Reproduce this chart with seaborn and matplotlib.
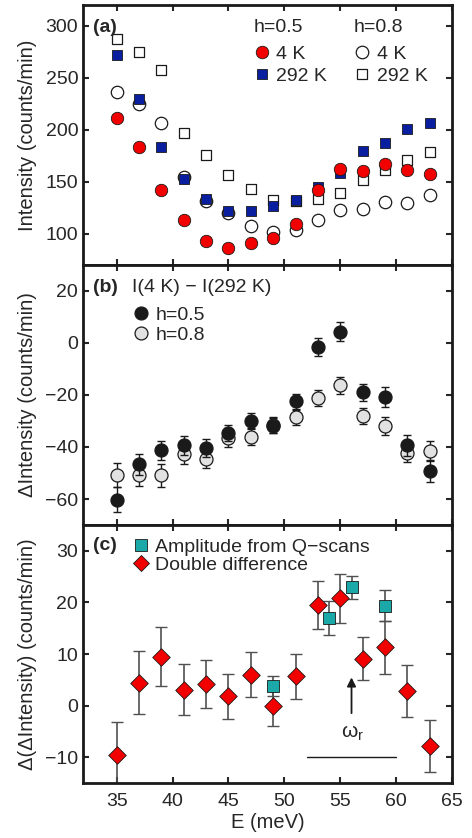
import numpy as np
import pandas as pd
import seaborn as sns
import matplotlib
matplotlib.use("Agg")
import matplotlib.pyplot as plt
from matplotlib.lines import Line2D

# energies (meV)
energy = [35, 37, 39, 41, 43, 45, 47, 49, 51, 53, 55, 57, 59, 61, 63]

# panel (a): raw intensities
h05_4K = [211.6, 183.3, 141.8, 113.5, 93.2, 86.8, 91.0, 95.5, 109.3, 142.4, 162.7, 160.1, 167.2, 161.1, 157.6]
h05_292K = [271.7, 229.3, 183.3, 152.7, 133.4, 121.5, 121.5, 127.0, 132.2, 144.7, 158.5, 179.4, 187.5, 200.3, 206.8]
h08_4K = [236.3, 224.4, 206.8, 154.3, 131.2, 120.0, 107.1, 101.6, 103.9, 112.9, 123.2, 124.1, 130.5, 129.6, 137.0]
h08_292K = [287.1, 275.2, 257.6, 196.5, 176.2, 156.3, 143.1, 132.8, 131.8, 133.8, 139.2, 152.1, 161.7, 171.4, 178.5]

# panel (b): I(4 K) - I(292 K)
diff_h05 = [-60.2, -46.6, -41.3, -39.4, -40.5, -34.7, -30.0, -31.8, -22.5, -1.5, 4.4, -19.0, -20.7, -39.4, -49.3]
diff_h05_err = [4.7, 4.0, 3.7, 3.5, 3.5, 3.0, 3.0, 3.0, 3.0, 3.5, 3.7, 3.2, 3.9, 4.0, 4.3]
diff_h08 = [-50.8, -50.8, -50.8, -42.6, -44.6, -36.7, -36.0, -31.5, -28.6, -21.2, -16.3, -28.0, -31.9, -42.2, -41.4]
diff_h08_err = [4.6, 4.2, 4.4, 3.8, 3.6, 3.4, 3.2, 3.0, 3.0, 3.2, 3.3, 3.0, 3.6, 3.6, 3.8]

# panel (c): double difference and Q-scan amplitude
dd = [-9.5, 4.4, 9.5, 3.1, 4.2, 1.8, 6.0, 0.0, 5.7, 19.5, 20.8, 9.1, 11.3, 2.8, -7.8]
dd_err = [6.4, 6.1, 5.7, 5.0, 4.6, 4.4, 4.3, 4.0, 4.4, 4.6, 4.8, 4.2, 5.1, 5.1, 5.1]
qscan_energy = [49, 54, 56, 59]
qscan_amp = [3.8, 16.9, 22.9, 19.4]
qscan_err = [1.9, 3.3, 2.2, 3.0]

# resonance marker
omega_r = 56
omega_r_band = [52, 60]

RED = "#f20000"
BLUE = "#0a1fa0"
TEAL = "#1ba8a8"
LIGHT = "#e2e2e2"
FS = 14

sns.set_theme(style="ticks")
plt.rcParams["font.family"] = ["Liberation Sans", "DejaVu Sans"]
plt.rcParams["font.size"] = FS
plt.rcParams["axes.linewidth"] = 2.0
plt.rcParams["xtick.direction"] = "in"
plt.rcParams["ytick.direction"] = "in"
plt.rcParams["xtick.major.size"] = 4
plt.rcParams["ytick.major.size"] = 4
plt.rcParams["xtick.major.width"] = 1.5
plt.rcParams["ytick.major.width"] = 1.5
plt.rcParams["xtick.major.pad"] = 7.5
plt.rcParams["xtick.labelsize"] = FS
plt.rcParams["ytick.labelsize"] = FS
plt.rcParams["axes.labelsize"] = 14.5
plt.rcParams["mathtext.fontset"] = "custom"
plt.rcParams["mathtext.rm"] = "Liberation Sans"
plt.rcParams["mathtext.it"] = "Liberation Sans"

fig = plt.figure(figsize=(4.72, 8.38), dpi=100)
left, width = 0.176, 0.782
ax_a = fig.add_axes([left, 0.6838, width, 0.3103])
ax_b = fig.add_axes([left, 0.3735, width, 0.3103], sharex=ax_a)
ax_c = fig.add_axes([left, 0.0656, width, 0.3079], sharex=ax_a)

df_a = pd.DataFrame({"E": energy, "h05_4K": h05_4K, "h05_292K": h05_292K,
                     "h08_4K": h08_4K, "h08_292K": h08_292K})

leg_kw = dict(frameon=False, loc="upper left", borderpad=0, borderaxespad=0,
              handlelength=0.9, handletextpad=0.3, fontsize=FS)

# ---- panel (a)
ms_c, ms_s = 80, 52
sns.scatterplot(data=df_a, x="E", y="h08_292K", marker="s", s=ms_s, color="white",
                edgecolor="k", linewidth=0.9, ax=ax_a, zorder=2)
sns.scatterplot(data=df_a, x="E", y="h08_4K", marker="o", s=ms_c, color="white",
                edgecolor="k", linewidth=0.9, ax=ax_a, zorder=3)
sns.scatterplot(data=df_a, x="E", y="h05_292K", marker="s", s=ms_s, color=BLUE,
                edgecolor="k", linewidth=0.6, ax=ax_a, zorder=4)
sns.scatterplot(data=df_a, x="E", y="h05_4K", marker="o", s=ms_c, color=RED,
                edgecolor="k", linewidth=0.6, ax=ax_a, zorder=5)
ax_a.set_ylim(70, 320)
ax_a.set_yticks([100, 150, 200, 250, 300])
ax_a.set_ylabel("Intensity (counts/min)")

handles = [
    Line2D([], [], ls="", marker="o", ms=9, mfc=RED, mec="k", mew=0.6),
    Line2D([], [], ls="", marker="s", ms=7.2, mfc=BLUE, mec="k", mew=0.6),
    Line2D([], [], ls="", marker="o", ms=9, mfc="white", mec="k", mew=0.9),
    Line2D([], [], ls="", marker="s", ms=7.2, mfc="white", mec="k", mew=0.9),
]
ax_a.legend(handles, ["4 K", "292 K", "4 K", "292 K"], ncol=2,
            bbox_to_anchor=(0.4606, 0.846), columnspacing=1.34,
            labelspacing=0.25, **leg_kw)
ax_a.text(0.461, 0.915, "h=0.5", transform=ax_a.transAxes, va="center", ha="left", fontsize=FS)
ax_a.text(0.732, 0.915, "h=0.8", transform=ax_a.transAxes, va="center", ha="left", fontsize=FS)
ax_a.text(0.027, 0.915, "(a)", transform=ax_a.transAxes, va="center", ha="left",
          fontsize=FS, fontweight="bold")

# ---- panel (b)
ax_b.errorbar(energy, diff_h08, yerr=diff_h08_err, fmt="none", ecolor="k",
              elinewidth=1.0, capsize=3, capthick=1.0, zorder=2)
sns.scatterplot(x=energy, y=diff_h08, marker="o", s=88, color=LIGHT,
                edgecolor="k", linewidth=0.9, ax=ax_b, zorder=3)
ax_b.errorbar(energy, diff_h05, yerr=diff_h05_err, fmt="none", ecolor="k",
              elinewidth=1.0, capsize=3, capthick=1.0, zorder=4)
sns.scatterplot(x=energy, y=diff_h05, marker="o", s=88, color="k",
                edgecolor="k", linewidth=0.9, ax=ax_b, zorder=5)
ax_b.set_ylim(-70, 30)
ax_b.set_yticks([-60, -40, -20, 0, 20])
ax_b.set_ylabel("ΔIntensity (counts/min)")
handles_b = [
    Line2D([], [], ls="", marker="o", ms=9.3, mfc="k", mec="k", mew=0.9),
    Line2D([], [], ls="", marker="o", ms=9.3, mfc=LIGHT, mec="k", mew=0.9),
]
ax_b.legend(handles_b, ["h=0.5", "h=0.8"], bbox_to_anchor=(0.132, 0.840),
            labelspacing=0.1, **leg_kw)
ax_b.text(0.027, 0.912, "(b)", transform=ax_b.transAxes, va="center", ha="left",
          fontsize=FS, fontweight="bold")
ax_b.text(0.133, 0.912, "I(4 K) − I(292 K)", transform=ax_b.transAxes, va="center",
          ha="left", fontsize=FS)

# ---- panel (c)
ax_c.errorbar(energy, dd, yerr=dd_err, fmt="none", ecolor="#505050",
              elinewidth=1.2, capsize=4, capthick=1.0, zorder=2)
ax_c.errorbar(qscan_energy, qscan_amp, yerr=qscan_err, fmt="none", ecolor="#505050",
              elinewidth=1.2, capsize=4, capthick=1.0, zorder=2)
sns.scatterplot(x=energy, y=dd, marker="D", s=80, color=RED,
                edgecolor="k", linewidth=0.6, ax=ax_c, zorder=4)
sns.scatterplot(x=qscan_energy, y=qscan_amp, marker="s", s=75, color=TEAL,
                edgecolor="k", linewidth=0.6, ax=ax_c, zorder=3)
ax_c.annotate("", xy=(omega_r, 6), xytext=(omega_r, -2),
              arrowprops=dict(arrowstyle="-|>", color="k", lw=1.3, mutation_scale=13))
ax_c.text(omega_r + 0.1, -5.4, r"$\omega_r$", ha="center", va="center", fontsize=15)
ax_c.plot(omega_r_band, [-10, -10], color="k", lw=1.0)
ax_c.set_ylim(-15, 35)
ax_c.set_yticks([-10, 0, 10, 20, 30])
ax_c.set_ylabel("Δ(ΔIntensity) (counts/min)")
handles_c = [
    Line2D([], [], ls="", marker="s", ms=8, mfc=TEAL, mec="k", mew=0.6),
    Line2D([], [], ls="", marker="D", ms=8, mfc=RED, mec="k", mew=0.6),
]
ax_c.legend(handles_c, ["Amplitude from Q−scans", "Double difference"],
            bbox_to_anchor=(0.132, 0.949), labelspacing=0.02, **leg_kw)
ax_c.text(0.027, 0.922, "(c)", transform=ax_c.transAxes, va="center", ha="left",
          fontsize=FS, fontweight="bold")

for ax in (ax_a, ax_b, ax_c):
    ax.set_xlim(32, 65)
    ax.set_xticks([35, 40, 45, 50, 55, 60, 65])
    ax.tick_params(top=True, right=True, which="both")
    for sp in ax.spines.values():
        sp.set_visible(True)
        sp.set_color("k")
    ax.set_xlabel("")
    ax.yaxis.set_label_coords(-0.125, 0.5)

for ax in (ax_a, ax_b):
    plt.setp(ax.get_xticklabels(), visible=False)
ax_c.set_xlabel("E (meV)", labelpad=2)

fig.savefig("out.png", dpi=100)
